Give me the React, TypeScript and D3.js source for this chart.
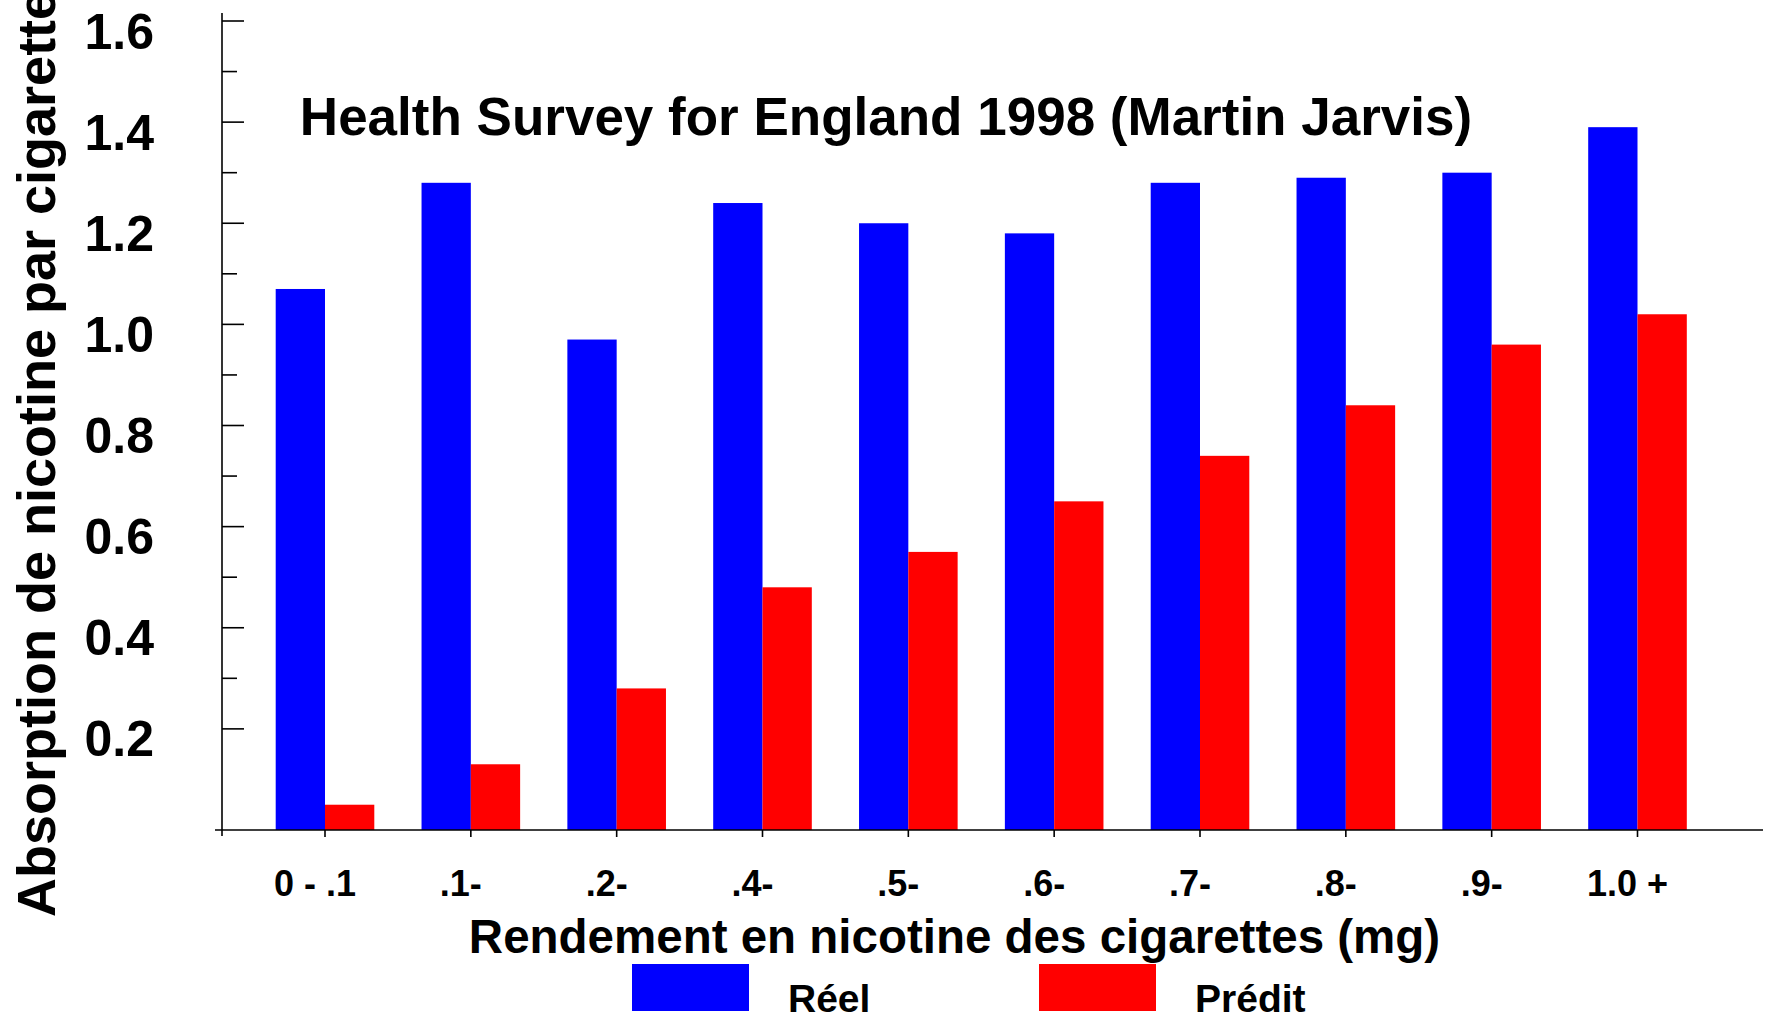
import { useEffect, useRef } from 'react';
import * as d3 from 'd3';

const categories = ['0 - .1', '.1-', '.2-', '.4-', '.5-', '.6-', '.7-', '.8-', '.9-', '1.0 +'];
const reel = [1.07, 1.28, 0.97, 1.24, 1.2, 1.18, 1.28, 1.29, 1.3, 1.39];
const predit = [0.05, 0.13, 0.28, 0.48, 0.55, 0.65, 0.74, 0.84, 0.96, 1.02];
const series = ['Réel', 'Prédit'];
const seriesColors = ['#0000ff', '#ff0000'];
const majorTicks = [0.2, 0.4, 0.6, 0.8, 1.0, 1.2, 1.4, 1.6];
const minorTicks = [0.3, 0.5, 0.7, 0.9, 1.1, 1.3, 1.5];

const title = 'Health Survey for England 1998 (Martin Jarvis)';
const xTitle = 'Rendement en nicotine des cigarettes (mg)';
const yTitle = 'Absorption de nicotine par cigarette';

const FONT = '"Liberation Sans", Arial, Helvetica, sans-serif';

export default function App() {
  const svgRef = useRef<SVGSVGElement>(null);
  const width = 1771;
  const height = 1015;

  useEffect(() => {
    if (!svgRef.current) return;
    const svg = d3.select(svgRef.current);
    svg.selectAll('*').remove();

    const axisX = 222;
    const y = d3.scaleLinear().domain([0, 1.6]).range([830, 21]);
    const step = (1637.5 - 325) / 9;
    const x0 = d3
      .scaleBand<string>()
      .domain(categories)
      .range([325 - step / 2, 1637.5 + step / 2])
      .padding(0);
    const barW = 49.3;
    const x1 = d3
      .scaleBand<string>()
      .domain(series)
      .range([step / 2 - barW, step / 2 + barW]);

    svg.append('rect').attr('width', width).attr('height', height).attr('fill', '#fff');

    // bars
    const values = [reel, predit];
    series.forEach((s, si) => {
      svg
        .append('g')
        .selectAll('rect')
        .data(values[si])
        .join('rect')
        .attr('x', (_, i) => (x0(categories[i]) ?? 0) + (x1(s) ?? 0))
        .attr('y', (d) => y(d))
        .attr('width', x1.bandwidth())
        .attr('height', (d) => y(0) - y(d))
        .attr('fill', seriesColors[si]);
    });

    // y axis
    const axis = svg.append('g').attr('stroke', '#000').attr('stroke-width', 1.6);
    axis.append('line').attr('x1', axisX).attr('x2', axisX).attr('y1', 13).attr('y2', 836);
    axis
      .selectAll('line.major')
      .data(majorTicks)
      .join('line')
      .attr('class', 'major')
      .attr('x1', axisX)
      .attr('x2', axisX + 22)
      .attr('y1', (d) => y(d))
      .attr('y2', (d) => y(d));
    axis
      .selectAll('line.minor')
      .data(minorTicks)
      .join('line')
      .attr('class', 'minor')
      .attr('x1', axisX)
      .attr('x2', axisX + 15)
      .attr('y1', (d) => y(d))
      .attr('y2', (d) => y(d));

    // x axis
    axis.append('line').attr('x1', 215).attr('x2', 1763).attr('y1', y(0)).attr('y2', y(0));
    axis
      .selectAll('line.xt')
      .data(categories)
      .join('line')
      .attr('class', 'xt')
      .attr('x1', (d) => (x0(d) ?? 0) + step / 2)
      .attr('x2', (d) => (x0(d) ?? 0) + step / 2)
      .attr('y1', y(0))
      .attr('y2', y(0) + 7);

    // y tick labels
    svg
      .append('g')
      .selectAll('text')
      .data(majorTicks)
      .join('text')
      .attr('x', 154)
      .attr('y', (d) => y(d) + 27.5)
      .attr('text-anchor', 'end')
      .attr('font-family', FONT)
      .attr('font-weight', 'bold')
      .attr('font-size', 50)
      .text((d) => d3.format('.1f')(d));

    // x tick labels
    svg
      .append('g')
      .selectAll('text')
      .data(categories)
      .join('text')
      .attr('x', (d) => (x0(d) ?? 0) + step / 2 - 10)
      .attr('y', 896)
      .attr('text-anchor', 'middle')
      .attr('font-family', FONT)
      .attr('font-weight', 'bold')
      .attr('font-size', 36)
      .text((d) => d);

    // titles
    svg
      .append('text')
      .attr('x', 886)
      .attr('y', 135)
      .attr('text-anchor', 'middle')
      .attr('font-family', FONT)
      .attr('font-weight', 'bold')
      .attr('font-size', 53)
      .text(title);

    svg
      .append('text')
      .attr('x', 954.5)
      .attr('y', 953)
      .attr('text-anchor', 'middle')
      .attr('font-family', FONT)
      .attr('font-weight', 'bold')
      .attr('font-size', 47.5)
      .text(xTitle);

    svg
      .append('text')
      .attr('transform', 'translate(55,917) rotate(-90)')
      .attr('text-anchor', 'start')
      .attr('font-family', FONT)
      .attr('font-weight', 'bold')
      .attr('font-size', 54)
      .text(yTitle);

    // legend
    const legendX = [632, 1039];
    const legend = svg
      .append('g')
      .selectAll('g')
      .data(series)
      .join('g')
      .attr('transform', (_, i) => `translate(${legendX[i]},964)`);
    legend
      .append('rect')
      .attr('width', 117)
      .attr('height', 47)
      .attr('fill', (_, i) => seriesColors[i]);
    legend
      .append('text')
      .attr('x', 156)
      .attr('y', 48)
      .attr('font-family', FONT)
      .attr('font-weight', 'bold')
      .attr('font-size', 39)
      .text((d) => d);
  }, []);

  return (
    <svg
      ref={svgRef}
      width={width}
      height={height}
      viewBox={`0 0 ${width} ${height}`}
      style={{ position: 'absolute', left: 0, top: 0, display: 'block' }}
    />
  );
}
